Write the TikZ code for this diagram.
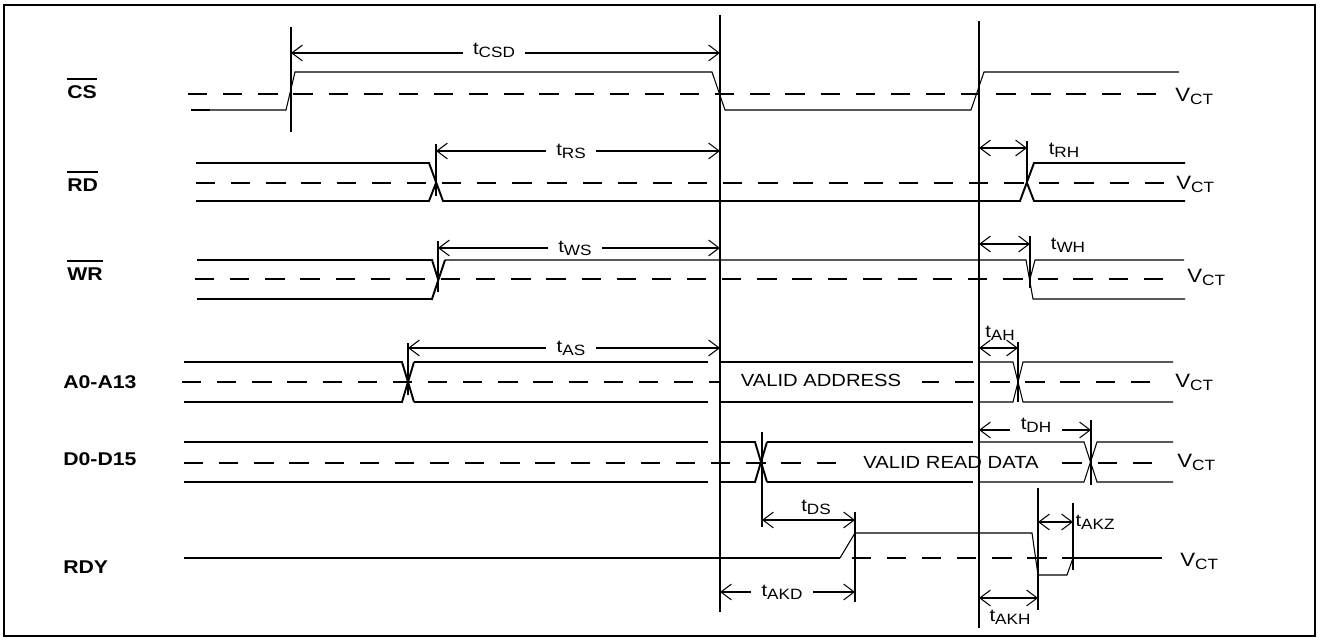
\documentclass[tikz,border=0pt]{standalone}
\usepackage{fontspec}
\setmainfont{Liberation Sans}[FakeStretch=1.15]
\usetikzlibrary{arrows.meta}

\newcommand{\tsig}[2]{#1\raisebox{-1.5pt}{\fontsize{8.5}{9}\selectfont #2}}

\begin{document}
\begin{tikzpicture}[x=0.02cm,y=-0.02cm,
  wave/.style={line width=1.1pt},
  wavethin/.style={line width=0.6pt},
  vct/.style={line width=1.1pt,dash pattern=on 11pt off 9pt},
  vline/.style={line width=1.1pt},
  bar/.style={line width=1.1pt},
  dimarrow/.style={line width=1.1pt,
    {Straight Barb[length=6pt,width=9pt,line width=0.6pt]}-{Straight Barb[length=6pt,width=9pt,line width=0.6pt]}},
  tlab/.style={anchor=base,inner sep=0pt},
  tlabcut/.style={anchor=base,fill=white,inner xsep=6pt,inner ysep=0pt},
  signame/.style={anchor=base west,inner sep=0pt,font=\fontsize{10.5}{12}\selectfont\bfseries},
  vlab/.style={anchor=base west,inner sep=0pt,font=\fontsize{11}{13}\selectfont}]

\useasboundingbox (0,0) rectangle (1319,641);
\draw[line width=1.2pt] (4,5) rectangle (1315,636);

% edges
\coordinate (ecs) at (291,0);
\coordinate (e1) at (720,0);
\coordinate (e2) at (979,0);
\coordinate (erd) at (436,0);
\coordinate (erh) at (1027,0);
\coordinate (ews) at (438,0);
\coordinate (ewh) at (1030,0);
\coordinate (eas) at (408,0);
\coordinate (eah) at (1018,0);
\coordinate (eds) at (762,0);
\coordinate (edh) at (1091,0);
\coordinate (eakd) at (855,0);
\coordinate (eakh) at (1038,0);
\coordinate (eakz) at (1073,0);

% V_CT levels
\draw[vct] (188,94) -- (1160,94);
\draw[vct] (196,183) -- (1165,183);
\draw[vct] (195,279) -- (1168,279);
\draw[vct] (182,382) -- (1157,382);
\draw[vct] (184,463) -- (1157,463);
\draw[vct] (184,558) -- (1160,558);

% CS
\draw[wave] (191,110) -- (210,110);
\draw[wavethin] (191,110) -- (286,110) -- (295,72) -- (712,72) -- (725,110) -- (971,110) -- (984,72) -- (1179,72);

% RD
\draw[wave] (196,163) -- (429,163) -- (443,201) -- (1020,201) -- (1034,163) -- (1185,163);
\draw[wave] (196,201) -- (429,201) -- (436,183);
\draw[wave] (1027,183) -- (1034,201) -- (1185,201);

% WR
\draw[wave] (197,260) -- (432,260) -- (438,279);
\draw[wave] (197,299) -- (432,299) -- (445,260);
\draw[wavethin] (445,260) -- (1026,260) -- (1033,299) -- (1185,299);
\draw[wavethin] (1030,279) -- (1035,260) -- (1184,260);

% A0-A13
\draw[wave] (184,362) -- (402,362) -- (414,402);
\draw[wave] (184,402) -- (402,402) -- (414,362);
\draw[wavethin] (414,362) -- (708,362) (414,402) -- (708,402)
  (720,362) -- (973,362) (720,402) -- (973,402);
\draw[wavethin] (980,362) -- (1013,362) -- (1023,402) -- (1173,402);
\draw[wavethin] (980,402) -- (1013,402) -- (1023,362) -- (1173,362);
\node[anchor=base,fill=white,inner xsep=12pt,inner ysep=0pt] (vaddr) at (821,387) {VALID ADDRESS};

% D0-D15
\draw[wave] (184,442) -- (708,442) (184,482) -- (708,482);
\draw[wave] (720,442) -- (755,442) -- (767,482);
\draw[wave] (720,482) -- (755,482) -- (767,442);
\draw[wavethin] (767,442) -- (973,442) (767,482) -- (973,482);
\draw[wavethin] (980,442) -- (1084,442) -- (1097,482) -- (1173,482);
\draw[wavethin] (980,482) -- (1084,482) -- (1097,442) -- (1173,442);
\node[anchor=base,fill=white,inner xsep=8pt,inner ysep=0pt] (vdata) at (951,469) {VALID READ DATA};

% RDY
\draw[wave] (184,558) -- (840,558);
\draw[wavethin] (840,558) -- (855,533) -- (1032,533) -- (1038,575) -- (1067,575) -- (1073,558);
\draw[wave] (1073,558) -- (1162,558);

% timing arrows
\draw[dimarrow] (ecs |- 0,53) -- (e1 |- 0,53);
\draw[dimarrow] (erd |- 0,151) -- (e1 |- 0,151);
\draw[dimarrow] (e2 |- 0,148) -- (erh |- 0,148);
\draw[dimarrow] (ews |- 0,248) -- (e1 |- 0,248);
\draw[dimarrow] (e2 |- 0,244) -- (ewh |- 0,244);
\draw[dimarrow] (eas |- 0,348) -- (e1 |- 0,348);
\draw[dimarrow] (e2 |- 0,348) -- (eah |- 0,348);
\draw[dimarrow] (e2 |- 0,430) -- (edh |- 0,430);
\draw[dimarrow] (eds |- 0,520) -- (eakd |- 0,520);
\draw[dimarrow] (e1 |- 0,592) -- (eakd |- 0,592);
\draw[dimarrow] (e2 |- 0,598) -- (eakh |- 0,598);
\draw[dimarrow] (eakh |- 0,522) -- (eakz |- 0,522);

\node[tlabcut] (tcsd) at (494,55) {\tsig{t}{CSD}};
\node[tlabcut] (trs) at (571,156) {\tsig{t}{RS}};
\node[tlab] (trh) at (1064,155) {\tsig{t}{RH}};
\node[tlabcut] (tws) at (575,253) {\tsig{t}{WS}};
\node[tlab] (twh) at (1068,250) {\tsig{t}{WH}};
\node[tlabcut] (tas) at (571,353) {\tsig{t}{AS}};
\node[tlab] (tah) at (1000,338) {\tsig{t}{AH}};
\node[tlabcut] (tdh) at (1036,430) {\tsig{t}{DH}};
\node[tlab] (tds) at (816,512) {\tsig{t}{DS}};
\node[tlabcut] (takd) at (782,597) {\tsig{t}{AKD}};
\node[tlab] (takh) at (1010,622) {\tsig{t}{AKH}};
\node[tlab] (takz) at (1095,527) {\tsig{t}{AKZ}};

% edge lines
\draw[vline] (ecs |- 0,27) -- (ecs |- 0,132);
\draw[vline] (e1 |- 0,15) -- (e1 |- 0,612);
\draw[vline] (e2 |- 0,21) -- (e2 |- 0,628);
\draw[vline] (erd |- 0,144) -- (erd |- 0,196);
\draw[vline] (erh |- 0,141) -- (erh |- 0,183);
\draw[vline] (ews |- 0,241) -- (ews |- 0,292);
\draw[vline] (ewh |- 0,236) -- (ewh |- 0,288);
\draw[vline] (eas |- 0,343) -- (eas |- 0,395);
\draw[vline] (eah |- 0,342) -- (eah |- 0,402);
\draw[vline] (eds |- 0,432) -- (eds |- 0,527);
\draw[vline] (edh |- 0,420) -- (edh |- 0,485);
\draw[vline] (eakd |- 0,512) -- (eakd |- 0,602);
\draw[vline] (eakh |- 0,488) -- (eakh |- 0,610);
\draw[vline] (eakz |- 0,503) -- (eakz |- 0,570);

% signal names
\node[signame] (ncs) at (67,99) {CS};
\node[signame] (nrd) at (67,192) {RD};
\node[signame] (nwr) at (67,281) {WR};
\node[signame] (na) at (63,389) {A0-A13};
\node[signame] (nd) at (63,466) {D0-D15};
\node[signame] (nrdy) at (63,574) {RDY};
\draw[bar] ([yshift=4pt]ncs.north west) -- ([yshift=4pt]ncs.north east);
\draw[bar] ([yshift=4pt]nrd.north west) -- ([yshift=4pt]nrd.north east);
\draw[bar] ([yshift=4pt]nwr.north west) -- ([yshift=4pt]nwr.north east);

\node[vlab] (vcs) at (1175,102) {\tsig{V}{CT}};
\node[vlab] (vrd) at (1176,190) {\tsig{V}{CT}};
\node[vlab] (vwr) at (1187,283) {\tsig{V}{CT}};
\node[vlab] (va) at (1175,388) {\tsig{V}{CT}};
\node[vlab] (vd) at (1177,468) {\tsig{V}{CT}};
\node[vlab] (vrdy) at (1180,567) {\tsig{V}{CT}};

\end{tikzpicture}
\end{document}
